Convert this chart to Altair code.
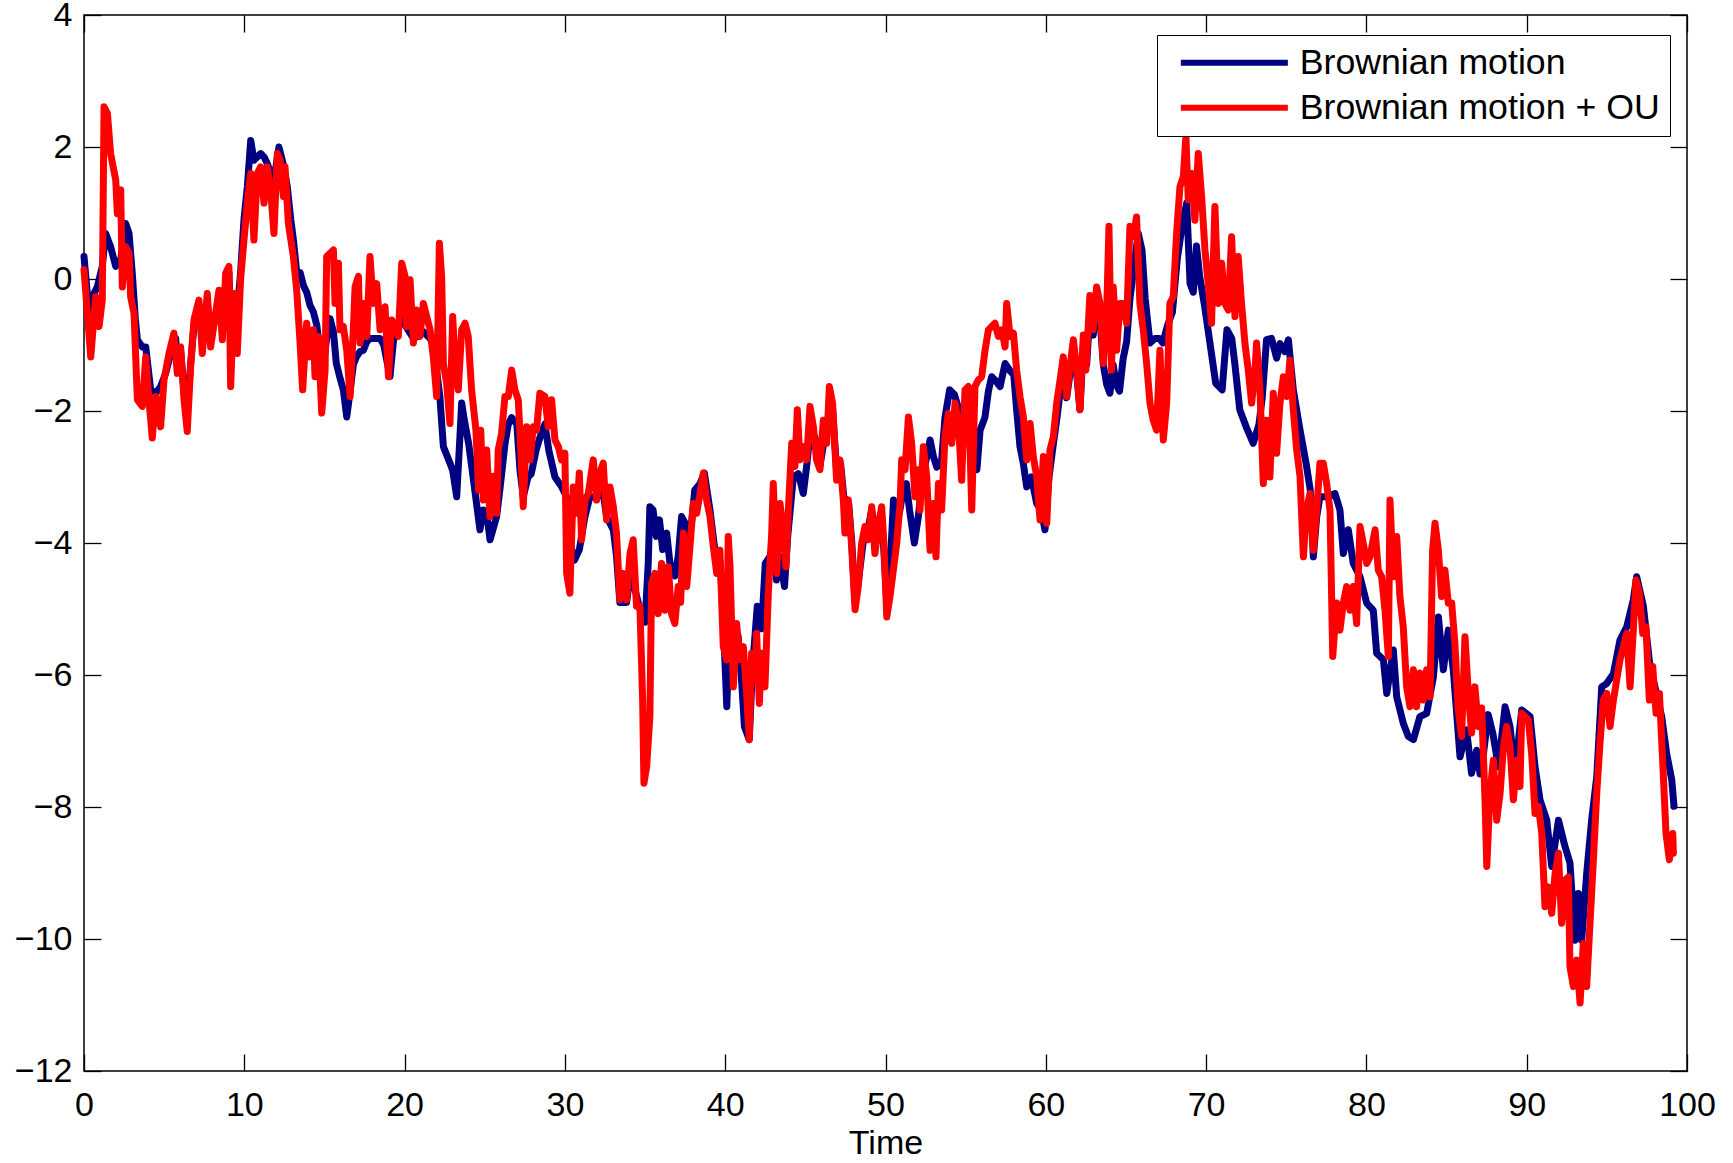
import altair as alt
import pandas as pd

# Brownian motion (navy) : (time, value)
bm_points = [
    (0, 0.34), (0.31, -0.5), (0.52, -0.27), (0.83, -0.12), (1.14, 0.19), (1.35, 0.69), (1.66, 0.49),
    (1.98, 0.19), (2.29, 0.29), (2.6, 0.84), (2.81, 0.69), (3.01, 0.09), (3.2, -0.6), (3.33, -0.92),
    (3.64, -1.03), (3.85, -1.03), (4.16, -1.68), (4.47, -1.73), (4.78, -1.63), (5.09, -1.43),
    (5.41, -1.13), (5.72, -0.9), (5.82, -1.3), (6.03, -1.1), (6.24, -1.7), (6.44, -2.0), (6.65, -1.3),
    (6.86, -0.7), (7.17, -0.45), (7.38, -0.95), (7.69, -0.35), (7.9, -0.9), (8.21, -0.55), (8.42, -0.3),
    (8.63, -0.75), (8.84, -0.05), (9.04, 0.1), (9.15, -0.8), (9.36, -0.3), (9.56, -0.5), (9.77, 0.1),
    (9.98, 0.9), (10.19, 1.4), (10.4, 2.1), (10.6, 1.8), (10.81, 1.85), (11.02, 1.9), (11.23, 1.85),
    (11.43, 1.75), (11.64, 1.6), (11.85, 1.5), (12.16, 2.0), (12.47, 1.7), (12.68, 1.4), (12.9, 0.9),
    (13.06, 0.6), (13.27, 0.1), (13.48, 0.1), (13.69, -0.1), (13.89, -0.2), (14.1, -0.4), (14.31, -0.5),
    (14.52, -0.7), (14.72, -1.1), (14.94, -1.28), (15.14, -0.9), (15.35, -0.6), (15.56, -0.8),
    (15.74, -1.28), (15.97, -1.5), (16.18, -1.68), (16.39, -2.09), (16.6, -1.7), (16.8, -1.3),
    (16.99, -1.18), (17.22, -1.1), (17.43, -1.08), (17.64, -0.95), (17.84, -0.9), (18.26, -0.9),
    (18.47, -0.9), (18.7, -1.0), (19.09, -1.48), (19.3, -0.95), (19.5, -0.7), (19.82, -0.6),
    (20.03, -0.7), (20.55, -0.9), (20.96, -0.85), (21.17, -0.8), (21.59, -0.9), (21.79, -1.0),
    (22.2, -1.78), (22.42, -2.54), (22.83, -2.79), (23.0, -2.9), (23.25, -3.3), (23.45, -2.4),
    (23.56, -1.88), (23.77, -2.2), (24.0, -2.5), (24.3, -3.05), (24.7, -3.8), (24.91, -3.5),
    (25.12, -3.55), (25.33, -3.95), (25.53, -3.78), (25.74, -3.6), (25.94, -3.2), (26.26, -2.5),
    (26.47, -2.2), (26.68, -2.1), (27.0, -2.2), (27.2, -2.9), (27.4, -3.3), (27.7, -3.0), (27.9, -2.95),
    (28.2, -2.6), (28.44, -2.4), (28.75, -2.2), (29.0, -2.6), (29.38, -3.0), (29.8, -3.15), (30.1, -3.3),
    (30.31, -4.0), (30.6, -4.26), (30.9, -4.1), (31.25, -3.6), (31.56, -3.3), (31.98, -3.3),
    (32.39, -3.25), (32.6, -3.6), (33.02, -3.8), (33.22, -4.2), (33.43, -4.9), (33.85, -4.9),
    (34.06, -4.5), (34.26, -4.6), (34.68, -5.0), (35.0, -5.2), (35.2, -4.3), (35.3, -3.45), (35.5, -3.5),
    (35.7, -3.9), (35.9, -3.65), (36.1, -4.1), (36.35, -3.85), (36.55, -4.3), (36.86, -4.5),
    (37.07, -4.2), (37.28, -3.6), (37.5, -3.7), (37.7, -3.9), (37.9, -3.7), (38.1, -3.2), (38.43, -3.1),
    (38.7, -2.94), (39.05, -3.5), (39.3, -4.0), (39.5, -4.3), (39.7, -4.3), (39.9, -5.3), (40.1, -6.48),
    (40.3, -5.0), (40.51, -5.8), (40.8, -5.4), (41.0, -6.0), (41.2, -6.78), (41.5, -6.98), (41.7, -5.9),
    (42.0, -4.96), (42.27, -5.3), (42.5, -4.31), (42.8, -4.2), (43.0, -4.0), (43.2, -4.56), (43.4, -4.2),
    (43.7, -4.66), (43.9, -3.9), (44.25, -3.0), (44.56, -2.95), (44.87, -3.25), (45.1, -2.8),
    (45.3, -2.3), (45.6, -2.4), (45.9, -2.85), (46.2, -2.4), (46.4, -2.29), (46.7, -1.98), (46.95, -2.9),
    (47.2, -2.8), (47.4, -3.3), (47.7, -3.4), (47.9, -4.0), (48.1, -4.9), (48.3, -4.6), (48.6, -4.0),
    (48.9, -3.8), (49.14, -3.5), (49.4, -4.0), (49.66, -3.6), (49.87, -4.0), (50.08, -4.9), (50.3, -4.3),
    (50.5, -3.35), (50.7, -3.7), (50.9, -3.5), (51.1, -3.2), (51.3, -3.1), (51.5, -3.5), (51.8, -4.0),
    (52.05, -3.6), (52.3, -3.0), (52.57, -2.7), (52.78, -2.44), (53.0, -2.7), (53.2, -2.85),
    (53.5, -2.75), (53.71, -2.1), (54.0, -1.68), (54.3, -1.75), (54.6, -2.0), (54.9, -2.1), (55.2, -2.3),
    (55.5, -2.6), (55.7, -2.89), (55.9, -2.29), (56.2, -2.1), (56.42, -1.7), (56.62, -1.48),
    (56.9, -1.55), (57.15, -1.63), (57.46, -1.28), (57.8, -1.4), (58.0, -1.45), (58.18, -1.98),
    (58.39, -2.54), (58.6, -2.8), (58.81, -3.15), (59.1, -3.0), (59.43, -3.4), (59.7, -3.5),
    (59.95, -3.8), (60.2, -3.0), (60.47, -2.5), (60.7, -2.1), (60.9, -1.7), (61.1, -1.3), (61.3, -1.8),
    (61.5, -1.45), (61.72, -1.0), (61.93, -1.45), (62.13, -1.98), (62.34, -1.0), (62.55, -1.3),
    (62.75, -0.5), (62.96, -0.85), (63.17, -0.3), (63.38, -0.6), (63.59, -1.3), (63.8, -1.6),
    (64.0, -1.73), (64.2, -1.3), (64.4, -1.6), (64.6, -1.7), (64.83, -1.2), (65.04, -0.95),
    (65.25, -0.3), (65.5, 0.2), (65.77, 0.69), (66.0, 0.44), (66.2, -0.3), (66.5, -0.97), (66.8, -0.9),
    (67.1, -0.9), (67.3, -0.97), (67.6, -0.7), (67.9, -0.5), (68.2, 0.3), (68.5, 0.8), (68.79, 1.15),
    (69.0, -0.07), (69.2, -0.2), (69.4, 0.5), (69.6, 0.04), (69.9, -0.4), (70.24, -0.97), (70.6, -1.58),
    (71.0, -1.68), (71.3, -0.77), (71.6, -0.9), (71.8, -1.3), (72.1, -1.98), (72.5, -2.24),
    (72.94, -2.49), (73.3, -2.2), (73.5, -1.8), (73.77, -0.92), (74.08, -0.9), (74.4, -1.2),
    (74.61, -0.98), (74.9, -1.1), (75.13, -0.92), (75.44, -1.68), (75.86, -2.29), (76.27, -2.84),
    (76.5, -3.2), (76.69, -4.21), (76.9, -3.6), (77.1, -3.3), (77.52, -3.3), (78.04, -3.25),
    (78.35, -3.5), (78.56, -4.16), (78.87, -3.8), (79.18, -4.31), (79.6, -4.51), (80.02, -4.91),
    (80.43, -5.02), (80.64, -5.67), (81.06, -5.77), (81.27, -6.28), (81.68, -5.62), (81.89, -6.33),
    (82.3, -6.73), (82.61, -6.93), (82.93, -6.98), (83.34, -6.63), (83.76, -6.58), (84.18, -6.03),
    (84.49, -5.12), (84.8, -5.92), (85.11, -5.32), (85.42, -5.92), (85.84, -7.24), (86.25, -6.83),
    (86.56, -7.49), (86.88, -7.14), (87.09, -7.5), (87.3, -7.2), (87.6, -6.6), (87.9, -6.9),
    (88.23, -7.39), (88.65, -6.48), (88.96, -6.78), (89.27, -7.49), (89.69, -6.53), (90.21, -6.63),
    (90.52, -7.39), (90.83, -7.89), (91.25, -8.2), (91.56, -8.9), (91.98, -8.2), (92.39, -8.6),
    (92.7, -8.85), (93.01, -10.02), (93.22, -9.31), (93.43, -10.02), (93.74, -9.01), (94.05, -8.2),
    (94.37, -7.54), (94.68, -6.18), (94.99, -6.13), (95.41, -5.98), (95.82, -5.47), (96.24, -5.27),
    (96.65, -4.86), (96.86, -4.51), (97.28, -4.96), (97.69, -5.87), (98.0, -6.18), (98.42, -6.63),
    (98.73, -7.19), (99.05, -7.59), (99.19, -7.99),
]

# Brownian motion + OU (red)
ou_points = [
    (0, 0.14), (0.42, -1.18), (0.73, -0.27), (0.94, -0.72), (1.14, -0.32), (1.25, 2.61), (1.46, 2.51),
    (1.66, 1.90), (1.98, 1.50), (2.08, 0.99), (2.29, 1.35), (2.39, -0.12), (2.6, 0.49), (2.81, 0.39),
    (2.91, -0.27), (3.12, -0.52), (3.33, -1.83), (3.64, -1.93), (3.85, -1.18), (4.05, -1.83),
    (4.26, -2.41), (4.47, -1.78), (4.78, -2.24), (4.99, -1.53), (5.3, -1.13), (5.61, -0.82),
    (5.82, -1.43), (6.03, -1.03), (6.24, -1.83), (6.44, -2.31), (6.65, -1.33), (6.86, -0.62),
    (7.17, -0.32), (7.38, -1.13), (7.69, -0.22), (7.9, -1.03), (8.21, -0.52), (8.42, -0.17),
    (8.63, -0.92), (8.84, 0.09), (9.04, 0.19), (9.15, -1.63), (9.36, -0.22), (9.56, -1.13), (9.77, 0.0),
    (9.98, 0.59), (10.19, 1.15), (10.4, 1.6), (10.6, 0.59), (10.81, 1.6), (11.02, 1.7), (11.23, 1.15),
    (11.43, 1.7), (11.64, 1.35), (11.85, 0.69), (12.06, 1.9), (12.23, 1.8), (12.44, 1.25), (12.54, 1.7),
    (12.75, 0.84), (13.06, 0.34), (13.27, -0.17), (13.48, -0.97), (13.64, -1.68), (13.89, -0.67),
    (14.1, -1.18), (14.31, -0.77), (14.41, -1.48), (14.62, -0.87), (14.83, -2.03), (15.04, -1.38),
    (15.14, 0.34), (15.35, 0.39), (15.56, 0.44), (15.66, -0.37), (15.87, 0.24), (15.97, -0.77),
    (16.18, -0.72), (16.39, -1.08), (16.6, -1.78), (16.8, -0.77), (16.91, -0.12), (17.12, 0.04),
    (17.22, -0.97), (17.43, -0.37), (17.64, -0.87), (17.84, 0.34), (18.05, -0.37), (18.26, -0.07),
    (18.47, -0.77), (18.78, -0.42), (18.99, -1.48), (19.2, -0.62), (19.4, -0.72), (19.61, -0.87),
    (19.82, 0.24), (20.03, 0.04), (20.13, -0.72), (20.34, -0.01), (20.55, -0.97), (20.75, -0.47),
    (20.96, -0.87), (21.17, -0.37), (21.38, -0.57), (21.59, -0.77), (21.79, -1.18), (22.0, -1.78),
    (22.17, 0.54), (22.31, 0.04), (22.42, -1.28), (22.62, -1.58), (22.83, -2.19), (23.0, -0.57),
    (23.15, -1.28), (23.35, -1.68), (23.56, -0.77), (23.77, -0.67), (23.97, -0.87), (24.18, -1.68),
    (24.45, -2.29), (24.62, -3.2), (24.75, -2.29), (24.91, -3.35), (25.12, -2.59), (25.32, -3.6),
    (25.53, -2.99), (25.74, -3.55), (25.84, -2.59), (26.05, -2.34), (26.26, -1.78), (26.47, -1.78),
    (26.68, -1.38), (26.88, -1.68), (27.09, -1.83), (27.2, -2.34), (27.4, -3.45), (27.61, -2.24),
    (27.82, -2.74), (28.03, -2.24), (28.23, -2.29), (28.44, -1.73), (28.75, -1.78), (28.96, -2.24),
    (29.17, -1.83), (29.38, -2.44), (29.59, -2.54), (29.79, -2.74), (30.0, -2.64), (30.11, -4.46),
    (30.31, -4.76), (30.52, -3.15), (30.73, -3.55), (30.9, -2.94), (31.04, -3.95), (31.25, -3.35),
    (31.46, -3.25), (31.77, -2.74), (31.98, -3.35), (32.18, -2.94), (32.39, -2.79), (32.6, -3.65),
    (32.81, -3.15), (33.02, -3.45), (33.22, -3.85), (33.43, -4.86), (33.64, -4.46), (33.85, -4.86),
    (34.06, -4.16), (34.26, -3.95), (34.47, -4.96), (34.68, -4.96), (34.85, -6.38), (34.93, -7.64),
    (35.1, -7.39), (35.3, -6.63), (35.41, -4.61), (35.61, -4.46), (35.82, -5.07), (36.03, -4.31),
    (36.24, -5.02), (36.45, -4.36), (36.65, -5.07), (36.86, -5.22), (37.07, -4.66), (37.22, -4.9),
    (37.39, -3.85), (37.6, -4.66), (37.8, -4.06), (38.01, -3.4), (38.22, -3.55), (38.43, -3.25),
    (38.64, -2.94), (38.84, -3.35), (39.05, -3.6), (39.26, -4.06), (39.47, -4.46), (39.67, -4.11),
    (39.88, -5.57), (40.09, -5.77), (40.19, -3.9), (40.3, -4.36), (40.51, -6.18), (40.71, -5.22),
    (40.92, -5.77), (41.13, -5.57), (41.34, -6.28), (41.5, -6.98), (41.65, -5.67), (41.86, -6.07),
    (41.96, -5.37), (42.13, -6.43), (42.27, -5.67), (42.48, -6.18), (42.69, -4.76), (42.9, -3.85),
    (43.0, -3.1), (43.21, -4.46), (43.42, -3.4), (43.63, -3.85), (43.79, -4.36), (43.94, -3.5),
    (44.15, -2.49), (44.35, -2.84), (44.5, -1.98), (44.66, -2.74), (44.87, -2.54), (45.08, -2.74),
    (45.29, -1.93), (45.5, -2.24), (45.7, -2.74), (45.91, -2.89), (46.12, -2.14), (46.33, -2.49),
    (46.5, -1.63), (46.7, -1.88), (46.95, -3.05), (47.16, -2.74), (47.37, -3.35), (47.47, -3.85),
    (47.68, -3.35), (47.89, -4.06), (48.1, -5.01), (48.3, -4.66), (48.51, -4.01), (48.72, -3.75),
    (48.93, -3.95), (49.14, -3.45), (49.34, -4.16), (49.55, -3.75), (49.76, -3.45), (49.9, -4.0),
    (50.08, -5.12), (50.28, -4.81), (50.49, -4.41), (50.7, -4.0), (50.91, -3.4), (51.01, -2.74),
    (51.22, -2.89), (51.43, -2.09), (51.63, -2.49), (51.84, -3.3), (52.05, -2.89), (52.15, -3.5),
    (52.36, -2.54), (52.57, -2.99), (52.78, -4.11), (52.99, -3.4), (53.15, -4.21), (53.3, -3.1),
    (53.5, -3.5), (53.71, -2.39), (53.92, -2.04), (54.13, -2.49), (54.34, -1.88), (54.55, -2.19),
    (54.75, -3.05), (54.96, -1.68), (55.17, -1.63), (55.38, -3.5), (55.58, -1.63), (55.79, -1.53),
    (56.0, -1.48), (56.21, -1.08), (56.42, -0.77), (56.62, -0.72), (56.83, -0.67), (57.04, -0.87),
    (57.25, -0.77), (57.46, -1.03), (57.56, -0.37), (57.77, -0.87), (57.98, -0.82), (58.18, -1.38),
    (58.39, -1.78), (58.6, -2.09), (58.81, -2.74), (59.02, -2.19), (59.22, -2.69), (59.43, -2.99),
    (59.64, -3.65), (59.85, -2.69), (60.06, -3.7), (60.26, -2.59), (60.47, -2.39), (60.68, -1.88),
    (60.89, -1.53), (61.09, -1.18), (61.3, -1.78), (61.51, -1.33), (61.72, -0.92), (61.93, -1.38),
    (62.13, -1.98), (62.34, -0.85), (62.5, -1.38), (62.75, -0.25), (62.96, -0.77), (63.17, -0.12),
    (63.38, -0.37), (63.59, -1.28), (63.79, -0.57), (63.94, 0.8), (64.1, -1.38), (64.21, -0.12),
    (64.42, -1.08), (64.62, -0.37), (64.83, -0.37), (65.04, -0.67), (65.25, 0.8), (65.46, 0.64),
    (65.66, 0.94), (65.87, -0.37), (66.08, -0.77), (66.29, -1.28), (66.5, -1.88), (66.7, -2.14),
    (66.91, -2.29), (67.12, -1.08), (67.33, -2.44), (67.54, -1.88), (67.74, -0.37), (67.95, -0.27),
    (68.16, 0.69), (68.37, 1.4), (68.58, 1.55), (68.74, 2.16), (68.89, 1.2), (69.1, 1.6), (69.3, 0.89),
    (69.51, 1.9), (69.72, 1.25), (69.93, 0.44), (70.13, -0.07), (70.34, -0.67), (70.55, 1.1),
    (70.76, -0.37), (70.97, 0.24), (71.17, -0.37), (71.38, -0.47), (71.59, 0.64), (71.8, -0.57),
    (72.0, 0.34), (72.21, -0.37), (72.42, -0.97), (72.63, -1.38), (72.84, -1.88), (73.04, -1.43),
    (73.15, -0.97), (73.36, -1.68), (73.57, -3.1), (73.77, -2.14), (73.98, -3.0), (74.19, -1.73),
    (74.4, -2.64), (74.6, -1.9), (74.82, -1.48), (75.03, -1.78), (75.23, -1.23), (75.44, -1.98),
    (75.65, -2.59), (75.86, -2.99), (76.07, -4.21), (76.27, -3.5), (76.48, -3.25), (76.69, -4.11),
    (76.9, -3.5), (77.1, -2.79), (77.31, -2.79), (77.52, -3.1), (77.73, -3.5), (77.9, -5.72),
    (78.14, -4.91), (78.35, -5.32), (78.56, -4.91), (78.77, -4.66), (78.98, -5.02), (79.18, -4.66),
    (79.39, -5.22), (79.6, -3.75), (79.81, -4.01), (80.02, -4.31), (80.22, -4.21), (80.54, -3.8),
    (80.74, -4.41), (80.95, -4.51), (81.16, -5.02), (81.37, -5.72), (81.47, -3.35), (81.68, -4.51),
    (81.89, -3.9), (82.09, -4.81), (82.3, -5.27), (82.51, -6.18), (82.72, -6.48), (82.93, -5.92),
    (83.13, -6.48), (83.34, -5.97), (83.55, -6.38), (83.76, -5.92), (83.97, -6.33), (84.13, -4.11),
    (84.28, -3.7), (84.49, -4.11), (84.69, -4.81), (84.9, -4.41), (85.11, -4.91), (85.32, -4.91),
    (85.52, -5.52), (85.73, -6.53), (85.94, -6.93), (86.15, -5.42), (86.36, -6.28), (86.56, -6.88),
    (86.77, -6.18), (86.98, -6.78), (87.19, -6.5), (87.4, -7.89), (87.51, -8.9), (87.71, -7.79),
    (87.92, -7.29), (88.13, -8.2), (88.34, -7.79), (88.55, -7.09), (88.75, -6.78), (88.96, -7.09),
    (89.17, -7.89), (89.38, -7.29), (89.58, -7.69), (89.69, -6.58), (89.9, -6.63), (90.1, -6.68),
    (90.31, -7.19), (90.52, -8.1), (90.73, -7.99), (90.94, -8.4), (91.14, -9.51), (91.35, -9.21),
    (91.56, -9.61), (91.77, -9.01), (91.98, -8.7), (92.18, -9.76), (92.39, -9.11), (92.6, -9.06),
    (92.7, -10.42), (92.91, -10.72), (93.12, -10.32), (93.33, -10.97), (93.53, -10.07), (93.74, -10.72),
    (93.95, -9.76), (94.16, -8.8), (94.37, -7.79), (94.57, -7.04), (94.78, -6.38), (94.99, -6.28),
    (95.2, -6.78), (95.41, -6.38), (95.61, -6.08), (95.82, -5.77), (96.03, -5.57), (96.24, -5.37),
    (96.45, -6.18), (96.65, -5.32), (96.82, -4.56), (97.03, -4.76), (97.24, -5.37), (97.44, -5.27),
    (97.65, -6.38), (97.86, -5.87), (98.07, -6.58), (98.28, -6.28), (98.48, -7.29), (98.69, -8.4),
    (98.9, -8.8), (99.11, -8.4), (99.15, -8.7),
]

series_names = ["Brownian motion", "Brownian motion + OU"]
series_colors = ["#000080", "#ff0000"]
x_ticks = [0, 10, 20, 30, 40, 50, 60, 70, 80, 90, 100]
y_ticks = [-12, -10, -8, -6, -4, -2, 0, 2, 4]

bm_df = pd.DataFrame({"t": [p[0] for p in bm_points], "v": [p[1] for p in bm_points],
                      "series": series_names[0]})
ou_df = pd.DataFrame({"t": [p[0] for p in ou_points], "v": [p[1] for p in ou_points],
                      "series": series_names[1]})

FONT = "Liberation Sans"
FS = 34
TICK = 17
LW = 7

xscale = alt.Scale(domain=[0, 100], nice=False, zero=False)
yscale = alt.Scale(domain=[-12, 4], nice=False, zero=False)
color = alt.Color(
    "series:N",
    scale=alt.Scale(domain=series_names, range=series_colors),
    legend=alt.Legend(
        title=None, orient="none", legendX=1073, legendY=20,
        symbolType="M-1,0H9.7", symbolSize=400, symbolStrokeWidth=6,
        symbolOffset=6, labelOffset=91, labelFont=FONT, labelFontSize=35.7, labelLimit=1000,
        labelColor="black", padding=10, rowPadding=8,
        strokeColor="black", fillColor="white",
    ),
)

line_bm = alt.Chart(bm_df).mark_line(strokeWidth=LW, strokeJoin="round", strokeCap="round").encode(
    x=alt.X("t:Q", scale=xscale, axis=alt.Axis(
        orient="bottom", values=x_ticks, title="Time", offset=-TICK, tickSize=TICK, domain=False,
        labelPadding=17, titlePadding=4, format="d", labelFlush=False, labelOverlap=False)),
    y=alt.Y("v:Q", scale=yscale, axis=alt.Axis(
        orient="left", values=y_ticks, title=None, offset=-TICK, tickSize=TICK, domain=False,
        labelPadding=12, format="d", labelFlush=False, labelOverlap=False)),
    color=color,
)

line_ou = alt.Chart(ou_df).mark_line(strokeWidth=LW, strokeJoin="round", strokeCap="round").encode(
    x=alt.X("t:Q", scale=xscale, axis=alt.Axis(
        orient="top", values=x_ticks, title=None, labels=False, offset=-TICK, tickSize=TICK,
        domain=False)),
    y=alt.Y("v:Q", scale=yscale, axis=alt.Axis(
        orient="right", values=y_ticks, title=None, labels=False, offset=-TICK, tickSize=TICK,
        domain=False)),
    color=color,
)

chart = alt.layer(line_bm, line_ou).resolve_axis(x="independent", y="independent").properties(
    width=1603, height=1056,
    autosize=alt.AutoSizeParams(type="none"),
    padding={"left": 84, "top": 15, "right": 46, "bottom": 92},
    background="white",
).configure_view(
    stroke="black", strokeWidth=1.5
).configure_axis(
    labelFont=FONT, labelFontSize=FS, labelColor="black", titleFont=FONT, titleFontSize=FS,
    titleFontWeight="normal", titleColor="black", tickColor="black", tickWidth=1.3, grid=False,
)

chart.save("out.html", embed_options={"renderer": "svg", "actions": False})
